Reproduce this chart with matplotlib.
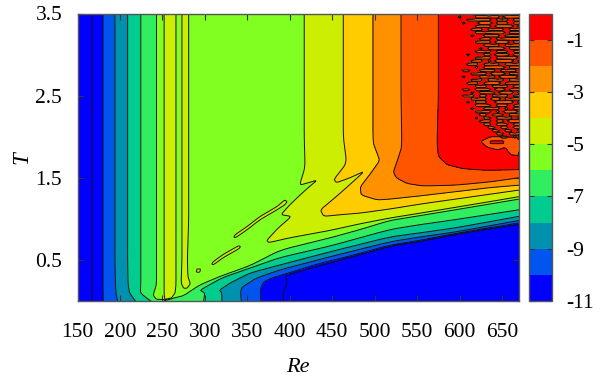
import numpy as np
import matplotlib
matplotlib.use("Agg")
import matplotlib.pyplot as plt
from matplotlib.colors import ListedColormap, BoundaryNorm
from matplotlib.cm import ScalarMappable
from matplotlib.tri import Triangulation

plt.rcParams['font.family'] = ['Liberation Serif', 'DejaVu Serif']
plt.rcParams['axes.unicode_minus'] = False

# Iso-level traces, (Re, T), the higher field always on the left of travel.
# None separates pieces of one level. Negative T closes a trace just below the plotted range.
RE_M11 = [167,167,167,167,167,167,167,167, 394.6,392,397,395,436,468,518,554,586,630,670]
T_M11  = [3.5,3.0,2.5,2.0,1.5,1.0,0.5,-.20, -.20,.10,.22,.31,.43,.52,.665,.725,.79,.87,.93]
RE_M10 = [180,180,180,180,180,180,180,180,181, 367.5,365,369,379,395,436,468,518,554,586,630,670]
T_M10  = [3.5,3.0,2.5,2.0,1.5,1.0,0.5,.10,-.16, -.16,.13,.23,.28,.33,.46,.54,.68,.74,.80,.88,.95]
RE_M9 = [194,194,194,194,194,194,194,195,200, 344,342,344,361,389,448,518,554,595,670]
T_M9  = [3.5,3.0,2.5,2.0,1.5,1.0,0.5,.10,-.12, -.12,.11,.17,.28,.38,.54,.72,.78,.84,.98]
RE_M8 = [209,209,209,209,209,209,209,209.5,211,224, 320,320,317,330,353,389,448,518,554,595,670]
T_M8  = [3.5,3.0,2.5,2.0,1.5,1.0,0.5,.22,.10,-.08, -.08,.10,.13,.22,.34,.44,.60,.78,.83,.89,1.03]
RE_M7 = [224.5,224.5,224.5,224.5,224.5,224.5,224.5,224.5,224,232,242,298,300,294,320,353,389,448,518,554,595,670]
T_M7  = [3.5,3.0,2.5,2.0,1.5,1.0,0.5,.22,.10,.03,-.04,-.04,.10,.13,.28,.40,.53,.67,.87,.93,.99,1.11]
RE_M6 = [243,243,243,243,243,243,243,243,239,243,249,255.5,265,275,294,318,353,389,448,483,518,554,595,670]
T_M6  = [3.5,3.0,2.5,2.0,1.5,1.0,0.5,.20,.07,.02,.02,.01,.04,.065,.195,.30,.43,.62,.77,.87,.98,1.04,1.11,1.24]
RE_M5 = [252,252,252,252,252,252,252,252,252,253,255,261,265,266,266,266,266,266,266,266,266, None,
         273,273,273,273,273,273,273,272,275,279,283,280,279.5,281,281,281,281,281,281, None,
         417,417,417,417,418,411.5,422,432,420.6,410,399,389.6,402,386.4,373,375,400.5,448,483,518,554,595,636,670, None,
         334,336,349.5,365,385,394,397,394,385,365,349.5,336,334, None,
         308,310,322,340,342,340,322,310,308, None,
         290,294,295,290.5,290]
T_M5  = [3.5,3.0,2.5,2.0,1.5,1.0,0.5,.20,.08,.01,.02,.04,.10,.20,.50,1.0,1.5,2.0,2.5,3.0,3.5, None,
         3.5,3.0,2.5,2.0,1.5,1.0,.5,.22,.155,.155,.21,.30,.52,1.0,1.5,2.0,2.5,3.0,3.5, None,
         3.5,3.0,2.5,2.0,1.63,1.41,1.44,1.47,1.37,1.27,1.16,1.05,1.03,.89,.74,.71,.77,.86,.94,1.01,1.07,1.14,1.21,1.27, None,
         .78,.77,.865,.99,1.11,1.17,1.21,1.23,1.15,1.03,.905,.81,.78, None,
         .45,.44,.53,.635,.66,.675,.57,.48,.45, None,
         .35,.35,.39,.39,.35]
RE_M4 = [463,463,463,463,467,452,455,471,488,471,453.5,436,440,459.5,483,518,554,595,636,670]
T_M4  = [3.5,3.0,2.5,2.0,1.68,1.48,1.44,1.50,1.58,1.42,1.26,1.11,1.03,1.05,1.07,1.12,1.18,1.24,1.30,1.35]
RE_M3 = [498,498,498,498,502,506,495,483,484,503,518,554,595,636,670]
T_M3  = [3.5,3.0,2.5,1.93,1.82,1.71,1.55,1.39,1.29,1.23,1.24,1.28,1.33,1.38,1.41]
RE_M2 = [531,531,531,532,527,522,525.5,538,557,595,636,670]
T_M2  = [3.5,3.0,2.5,1.88,1.72,1.57,1.50,1.43,1.40,1.41,1.45,1.50]
RE_M1 = [575,575,575,573.5,575,585,604.5,633,670, None,
         624.6,636,648,670,670,660,654,645,633,624.6, None,
         636,652,652,636,636]
T_M1  = [3.5,3.0,2.5,1.93,1.76,1.66,1.61,1.59,1.60, None,
         1.94,2.0,2.0,1.99,1.77,1.78,1.87,1.84,1.87,1.94, None,
         1.915,1.915,1.95,1.95,1.915]

# Field values at the corners of the sampled area
RE_CORNER = [150, 150, 670, 670]
T_CORNER = [3.5, -0.3, -0.3, 3.5]
Z_CORNER = [-12, -12, -12, -0.5]

# Streaks of the -1 band in the noisy upper-right corner
# ('#' thin streak, '@' wide streak, '.' field above -1)
NOISE_RE = [590,595,600,605,610,615,620,625,630,635,640,645,650,655,660,665,670]
NOISE_T0 = 3.5
NOISE_DT = 0.0385
NOISE_ROWS = [
 "...#.####.@@@.###",
 "..#...######.@@@#",
 "....######.###.##",
 "...#...@@@.###.##",
 "......####.@@@@.#",
 ".....###.####.###",
 "......####@@@.###",
 ".....#..####.####",
 ".......###.###@@@",
 "......####.@@@.##",
 "........####.####",
 ".......#.#@@@.###",
 "......####.###.##",
 "....#...##.@@@.##",
 "......####.##@@@.",
 ".....###.#.@@@@.#",
 "....###.####.####",
 "......#.##@@@.###",
 "...##..####.####.",
 ".....####.@@@.###",
 "...#...####.@@@@.",
 ".....###.####.###",
 "....###.#@@@.####",
 "......###.####.##",
 "...##.####.@@.###",
 ".....#.####.@@@.#",
 "...###.##.####.##",
 ".....####.@@.####",
 "....#.###..@@@@.#",
 "......####.###.##",
 ".....#..####.#.##",
 "......####.#.@@@.",
 ".......##.###.###",
 "......#.##.####.#",
 ".......###.##.@@@",
 "........##.###.##",
 ".........##.##.##",
 "..........##.##.#",
 "...........##.###",
 "............##.#.",
]
NOISE_VALUE = {'.': -0.6, '#': -1.25, '@': -3.0}
NOISE_BETWEEN = -0.95

CBAR_TICKS = [-1, -3, -5, -7, -9, -11]
XTICKS = [150, 200, 250, 300, 350, 400, 450, 500, 550, 600, 650]
YTICKS = [0.5, 1.5, 2.5, 3.5]
BAND_COLORS = ['#0000ff', '#0055ee', '#0090b0', '#00cc90', '#30ee60', '#80ff20',
               '#ccee00', '#ffcc00', '#ff9000', '#ff5500', '#ff0000']

TRACES = {-11: (RE_M11, T_M11), -10: (RE_M10, T_M10), -9: (RE_M9, T_M9), -8: (RE_M8, T_M8),
          -7: (RE_M7, T_M7), -6: (RE_M6, T_M6), -5: (RE_M5, T_M5), -4: (RE_M4, T_M4),
          -3: (RE_M3, T_M3), -2: (RE_M2, T_M2), -1: (RE_M1, T_M1)}

SX, SY = 0.848, 82.0   # screen proportions of one Re / one T unit


def pieces(res, ts):
    out, cur = [], []
    for r, t in zip(res, ts):
        if r is None:
            out.append(cur)
            cur = []
        else:
            cur.append((r * SX, t * SY))
    out.append(cur)
    return [np.array(p, float) for p in out]


def round_corners(p, cut=0.14, times=2):
    closed = np.allclose(p[0], p[-1])
    for _ in range(times):
        a, b = p[:-1], p[1:]
        q = np.empty((2 * len(a), 2))
        q[0::2] = a * (1 - cut) + b * cut
        q[1::2] = a * cut + b * (1 - cut)
        if closed:
            q = np.vstack([q, q[0]])
        else:
            q = np.vstack([p[0], q, p[-1]])
        p = q
    return p


def fine(p, step=2.5):
    out = [p[0]]
    for a, b in zip(p[:-1], p[1:]):
        n = max(1, int(np.ceil(np.hypot(*(b - a)) / step)))
        for i in range(1, n + 1):
            out.append(a + (b - a) * i / n)
    return np.array(out)


xs, ys, zs = [], [], []
for lev, (res, ts) in TRACES.items():
    for p in pieces(res, ts):
        p = fine(round_corners(p))
        d = np.gradient(p, axis=0)
        d /= np.maximum(np.hypot(d[:, 0], d[:, 1]), 1e-9)[:, None]
        left = np.column_stack([-d[:, 1], d[:, 0]])
        comp = p + 0.7 * left
        xs += [p[:, 0], comp[:, 0]]
        ys += [p[:, 1], comp[:, 1]]
        zs += [np.full(len(p), float(lev)), np.full(len(p), lev + 0.5)]
xs.append(np.array(RE_CORNER, float) * SX)
ys.append(np.array(T_CORNER, float) * SY)
zs.append(np.array(Z_CORNER, float))
xs, ys, zs = map(np.concatenate, (xs, ys, zs))
keep = (xs >= 150 * SX) & (xs <= 670 * SX) & (ys >= -0.3 * SY) & (ys <= 3.5 * SY)
xs, ys, zs = xs[keep], ys[keep], zs[keep]
_, uniq = np.unique(np.round(np.column_stack([xs, ys]), 3), axis=0, return_index=True)
xs, ys, zs = xs[uniq], ys[uniq], zs[uniq]

fig = plt.figure(figsize=(6.0, 3.84), dpi=100)
W, H = 600.0, 384.0
ax = fig.add_axes([77.5/W, 1-301/H, (519-77.5)/W, (301-13.5)/H])

tri = Triangulation(xs / SX, ys / SY, triangles=Triangulation(xs, ys).triangles)

EPS = 0.02
levels = [-13] + [k + EPS for k in range(-11, 0)] + [1]
fill_colors = [BAND_COLORS[0]] + BAND_COLORS
ax.tricontourf(tri, zs, levels=levels, colors=fill_colors)
ax.tricontour(tri, zs, levels=[k + EPS for k in range(-11, 0)], colors='#111111',
              linewidths=0.7, linestyles='solid')

rows = []
for row in NOISE_ROWS:
    rows.append([NOISE_VALUE[c] for c in row])
    rows.append([NOISE_BETWEEN if c != '.' else NOISE_VALUE['.'] for c in row])
noise = np.array(rows)
noise_t = NOISE_T0 - 0.5 * NOISE_DT * np.arange(len(rows))
ax.contourf(NOISE_RE, noise_t, noise, levels=[-5, -1], colors=['#ff5500'])
ax.contour(NOISE_RE, noise_t, noise, levels=[-1], colors='#111111', linewidths=0.8, linestyles='solid')

ax.set_xlim(150, 670)
ax.set_ylim(0, 3.5)
ax.set_xticks(XTICKS)
ax.set_yticks(YTICKS)
ax.set_yticklabels(['0.5', '1.5', '2.5', '3.5'])
ax.tick_params(axis='x', direction='in', top=True, length=4, width=0.8, color='#333333', pad=16, labelsize=15.5)
ax.tick_params(axis='y', direction='in', right=True, length=4, width=0.8, color='#333333', pad=11, labelsize=15.5)
for s in ax.spines.values():
    s.set_color('#555555')
    s.set_linewidth(1.0)
ax.set_xlabel('Re', style='italic', fontsize=16, labelpad=11)
ax.set_ylabel('T', style='italic', fontsize=16.5, labelpad=2)

cax = fig.add_axes([529/W, 1-301/H, 23/W, (301-13.5)/H])
bounds = list(range(-11, 1))
sm = ScalarMappable(norm=BoundaryNorm(bounds, len(BAND_COLORS)), cmap=ListedColormap(BAND_COLORS))
cb = fig.colorbar(sm, cax=cax, drawedges=False, spacing='proportional')
cb.set_ticks(CBAR_TICKS)
cb.set_ticklabels([str(v) for v in CBAR_TICKS])
cax.minorticks_off()
cax.tick_params(axis='y', direction='in', left=True, right=True, length=3.5, width=0.8, color='#333333', pad=10, labelsize=15.5)
cb.outline.set_edgecolor('#555555')
cb.outline.set_linewidth(1.0)

fig.savefig('out.png', dpi=100)
